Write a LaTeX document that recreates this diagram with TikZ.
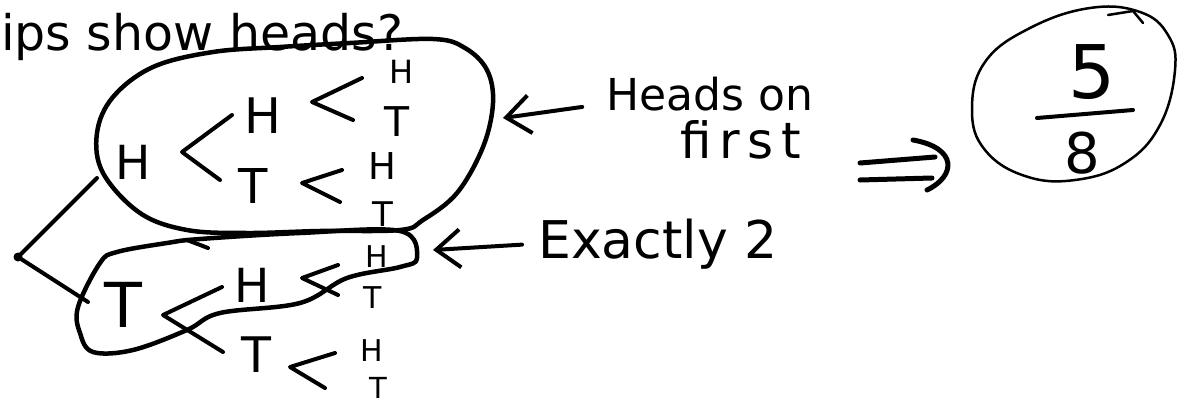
\documentclass[tikz,border=0pt]{standalone}
\usepackage{fontspec}
\setmainfont{DejaVu Sans}
\usetikzlibrary{arrows.meta}

\begin{document}
\begin{tikzpicture}[x=1pt, y=-1pt,
  pen/.style={line width=4pt, line cap=round, line join=round},
  loop/.style={pen, line width=4.5pt},
  coin/.style={font=\fontsize{#1}{#1}\selectfont, inner sep=0pt},
  note/.style={font=\fontsize{#1}{#1}\selectfont, inner sep=0pt},
  barb/.style={pen, -{Straight Barb[length=24pt, width=38pt]}}]
\useasboundingbox (0,0) rectangle (1182,407);

% The cut-off slide title
\node[note=49, anchor=base west] (title) at (1,50) {ips show heads?};

% The tree of three flips
\node[circle, fill, inner sep=0pt, minimum size=9pt] (root) at (18,257) {};
\draw[pen] (root.center) ++(79,-79) -- (root.center) -- ++(70,45);

\node[coin=47] (hA) at (133,162) {H};
\node[coin=49] (hB) at (263,116) {H};
\node[coin=32] (hHH) at (402,72) {H};
\node[coin=41] (hHT) at (397,122) {T};
\node[coin=48] (tB) at (253,186) {T};
\node[coin=37] (hTH) at (382,166) {H};
\node[coin=34] (hTT) at (383,214) {T};

\node[coin=62] (tA) at (123,305) {T};
\node[coin=47] (hC) at (252,285) {H};
\node[coin=30] (tHH) at (377,257) {H};
\node[coin=30] (tHT) at (373,298) {T};
\node[coin=49] (tC) at (256,355) {T};
\node[coin=30] (tTH) at (372,351) {H};
\node[coin=29] (tTT) at (378,388) {T};

% The forks
\draw[pen] (hA) ++(99,-47) -- ++(-50,37) -- ++(38,28);
\draw[pen] (hB) ++(99,-38) -- ++(-50,24) -- ++(41,18);
\draw[pen] (tB) ++(89,-16) -- ++(-40,13) -- ++(38,19);
\draw[pen] (tA) ++(99,-18) -- ++(-59,28) -- ++(60,37);
\draw[pen] (hC) ++(86,-20) -- ++(-36,13) -- ++(36,17);
\draw[pen] (tC) ++(79,-2) -- ++(-45,14) -- ++(35,21);

% Loop round heads on first
\draw[loop] plot[smooth cycle, tension=0.6] coordinates {(400,230) (423,220)
  (457,193) (483,147) (493,103) (487,70) (465,48) (433,39) (350,43) (280,47)
  (213,52) (153,67) (113,97) (97,133) (103,173) (140,213) (187,230) (247,233)
  (320,231)};

% Loop round exactly two heads
\draw[loop] plot[smooth cycle, tension=0.6] coordinates {(400,231) (417,258)
  (400,267) (347,278) (300,303) (220,313) (187,330) (133,350) (93,352) (80,333)
  (78,307) (100,263) (117,252) (167,243) (200,239) (300,233)};
\draw[pen] (187,240) -- (208,248);

% The labels
\node[note=44, anchor=base west] (heads) at (606,110) {Heads on};
\node[note=50, anchor=base] (first) at (741,158) {\addfontfeatures{LetterSpace=15}first};
\node[note=52, anchor=base west] (exact) at (538,258) {Exactly 2};

\coordinate (tipH) at (503,118);
\coordinate (tipE) at (433,250);
\draw[barb, shorten <=24pt] ([yshift=-10pt]heads.west) -- (tipH);
\draw[barb, shorten <=16pt] (exact.west) -- (tipE);

% The answer
\draw[line width=2.5pt] plot[smooth cycle, tension=0.7] coordinates {(972,110)
  (985,62) (1030,28) (1090,8) (1140,12) (1168,35) (1175,70) (1160,125)
  (1125,163) (1075,180) (1025,176) (985,150)};
\draw[line width=2.5pt, line cap=round] (1108,15) -- (1133,11) -- (1143,23);
\node[coin=74] (five) at (1092,72) {5};
\node[coin=56] (eight) at (1082,153) {8};
\draw[pen] (1037,118) -- (1133,110);

% The implies sign
\coordinate (impT) at (860,163);
\coordinate (impH) at (913,140);
\draw[pen, line width=5pt] (impT) -- ++(75,-6);
\draw[pen, line width=5pt] (impT) ++(0,17) -- ++(72,-2);
\draw[pen, line width=5pt] (impH) .. controls (958,148) and (956,176) .. (927,190);

\end{tikzpicture}
\end{document}
